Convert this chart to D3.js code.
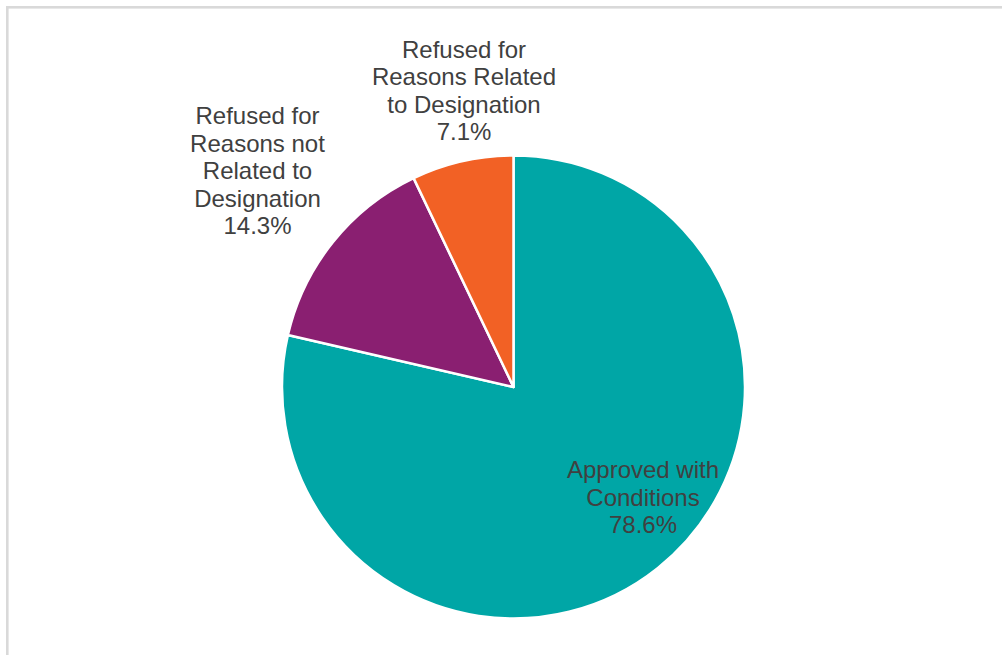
<!DOCTYPE html>
<html>
<head>
<meta charset="utf-8">
<script src="https://cdn.jsdelivr.net/npm/d3@7"></script>
<style>
  html, body { margin: 0; padding: 0; background: #fff; overflow: hidden; }
  svg { display: block; }
  text { font-family: "Liberation Sans", Arial, sans-serif; }
</style>
</head>
<body>
<svg id="chart" width="1002" height="655"></svg>
<script>
// ---- data ----
const categories = [
  "Approved with Conditions",
  "Refused for Reasons not Related to Designation",
  "Refused for Reasons Related to Designation"
];
const values = [78.6, 14.3, 7.1];
const labelLines = [
  ["Approved with", "Conditions", "78.6%"],
  ["Refused for", "Reasons not", "Related to", "Designation", "14.3%"],
  ["Refused for", "Reasons Related", "to Designation", "7.1%"]
];
const colors = ["#00A6A6", "#8A1F71", "#F26125"];

// ---- layout ----
const W = 1002, H = 655;
const cx = 513.5, cy = 387, R = 231.5;
// label anchor: centre x and first baseline y
const labelPos = [
  { x: 643, y: 478 },
  { x: 257.5, y: 124 },
  { x: 464, y: 57.5 }
];
const lineH = 27.6;

const svg = d3.select("#chart");

// frame
svg.append("rect")
  .attr("x", 7.3).attr("y", 7.3)
  .attr("width", W + 20).attr("height", H + 20)
  .attr("fill", "none")
  .attr("stroke", "#d9d9d9")
  .attr("stroke-width", 2.6);

const pie = d3.pie().sort(null).value(d => d)(values);
const arc = d3.arc().innerRadius(0).outerRadius(R);

const g = svg.append("g").attr("transform", `translate(${cx},${cy})`);
g.selectAll("path")
  .data(pie)
  .join("path")
  .attr("d", arc)
  .attr("fill", (d, i) => colors[i])
  .attr("stroke", "#fff")
  .attr("stroke-width", 2.5)
  .attr("stroke-linejoin", "round");

// labels
categories.forEach((c, i) => {
  const t = svg.append("text")
    .attr("text-anchor", "middle")
    .attr("fill", "#404040")
    .attr("font-size", 24);
  labelLines[i].forEach((ln, j) => {
    t.append("tspan")
      .attr("x", labelPos[i].x)
      .attr("y", labelPos[i].y + j * lineH)
      .text(ln);
  });
});
</script>
</body>
</html>
